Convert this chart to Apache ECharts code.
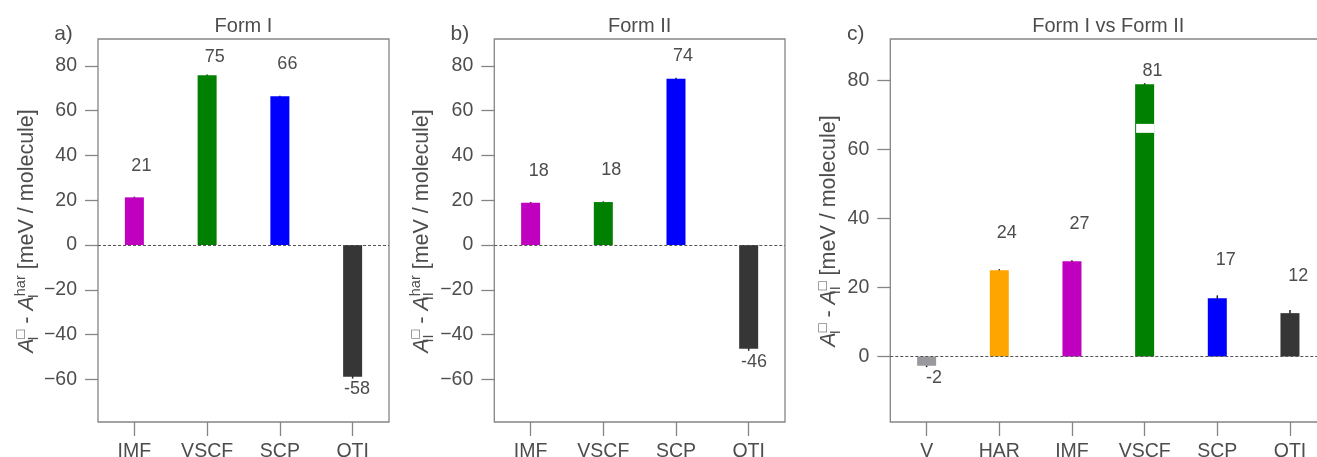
<!DOCTYPE html>
<html><head><meta charset="utf-8">
<script src="https://cdn.jsdelivr.net/npm/echarts@6/dist/echarts.min.js"></script>
<style>html,body{margin:0;padding:0;background:#fff}#c{width:1317px;height:457px}</style>
</head><body><div id="c"></div>
<script>
// ---------------- data ----------------
const catsAB = ['IMF', 'VSCF', 'SCP', 'QTI'];
const formIValues = [21.3, 75.8, 66.4, -58.8];
const formIErrors = [0.3, 0.4, 0.3, 0.8];
const formILabels = ['21', '75', '66', '-58'];

const formIIValues = [18.9, 19.2, 74.2, -46.3];
const formIIErrors = [0.3, 0.3, 0.5, 0.9];
const formIILabels = ['18', '18', '74', '-46'];

const catsC = ['V', 'HAR', 'IMF', 'VSCF', 'SCP', 'QTI'];
const diffValues = [-2.7, 25.0, 27.6, 78.9, 16.9, 12.55];
const diffErrors = [0.4, 0.3, 0.3, 0.3, 0.8, 0.9];
const diffLabels = ['-2', '24', '27', '81', '17', '12'];
const vscfBreak = [64.8, 67.4];   // white break band drawn on the VSCF bar (panel c)

const yTicksAB = [-60, -40, -20, 0, 20, 40, 60, 80];
const yTicksC = [0, 20, 40, 60, 80];
const titles = ['Form I', 'Form II', 'Form I vs Form II'];
const letters = ['a)', 'b)', 'c)'];

// ---------------- style ----------------
const FONT = '"Liberation Sans", Arial, Helvetica, sans-serif';
const TXT = '#4d4d4d';
const FRAME = '#858585';
const methodColor = { V: '#9a9a9e', HAR: '#FFA500', IMF: '#BF00BF', VSCF: '#008000', SCP: '#0000FF', QTI: '#363636' };
// pixel offsets of value labels (dx, dy) relative to bar end
const offA = [[7, -31.6], [7.7, -18.6], [7.5, -32], [4.5, 12.6]];
const offB = [[8, -31.3], [8, -31.7], [7, -23], [5.4, 13]];
const offC = [[7.3, 12], [7.5, -36.7], [7.5, -37.3], [7.8, -13.3], [8.5, -38], [8.2, -37]];

const grids = [
  { left: 98, top: 39, width: 291, height: 383 },
  { left: 494.3, top: 39, width: 290.7, height: 383 },
  { left: 890.3, top: 39, width: 436, height: 383 }
];

function xAxis(idx, cats) {
  return {
    type: 'category', gridIndex: idx, data: cats,
    axisLine: { show: false, onZero: false },
    axisTick: { show: true, alignWithLabel: true, length: 14, lineStyle: { color: FRAME, width: 1.3 } },
    axisLabel: { color: TXT, fontFamily: FONT, fontSize: 19.5, margin: 20 },
    splitLine: { show: false }
  };
}
function yAxis(idx, min, max, ticks) {
  return {
    type: 'value', gridIndex: idx, min: min, max: max,
    axisLine: { show: false },
    axisTick: { show: true, length: 13, customValues: ticks, lineStyle: { color: FRAME, width: 1.3 } },
    axisLabel: { color: TXT, fontFamily: FONT, fontSize: 19.5, margin: 21, customValues: ticks,
      formatter: v => String(v).replace('-', '\u2212') },
    splitLine: { show: false }
  };
}

function panelSeries(idx, cats, vals, errs, labels, offs, brk) {
  const s = [];
  s.push({
    type: 'custom', xAxisIndex: idx, yAxisIndex: idx, z: 1, silent: true,
    data: vals.map((v, i) => [i, v, errs[i]]),
    renderItem: (p, api) => {
      const i = api.value(0), v = api.value(1), e = api.value(2);
      const a = api.coord([i, v - e]), b = api.coord([i, v + e]);
      return { type: 'line', shape: { x1: a[0], y1: a[1], x2: b[0], y2: b[1] }, style: { stroke: '#222', lineWidth: 1.5 } };
    }
  });
  s.push({
    type: 'bar', xAxisIndex: idx, yAxisIndex: idx, barWidth: 19, z: 2, silent: true,
    data: vals.map((v, i) => ({ value: v, itemStyle: { color: methodColor[cats[i]] } })),
    markLine: {
      silent: true, symbol: 'none', label: { show: false }, animation: false,
      lineStyle: { color: '#555', type: [3, 2], width: 1 },
      data: [{ yAxis: 0 }]
    }
  });
  if (brk) {
    const bi = cats.indexOf('VSCF');
    s.push({
      type: 'custom', xAxisIndex: idx, yAxisIndex: idx, z: 4, silent: true,
      data: [[bi, brk[0], brk[1]]],
      renderItem: (p, api) => {
        const lo = api.coord([api.value(0), api.value(1)]);
        const hi = api.coord([api.value(0), api.value(2)]);
        return { type: 'rect', shape: { x: lo[0] - 8.5, y: hi[1], width: 18, height: lo[1] - hi[1] }, style: { fill: '#ffffff' } };
      }
    });
  }
  s.push({
    type: 'custom', xAxisIndex: idx, yAxisIndex: idx, z: 5, silent: true,
    data: vals.map((v, i) => [i, v]),
    renderItem: (p, api) => {
      const i = p.dataIndex;
      const c = api.coord([api.value(0), api.value(1)]);
      return {
        type: 'text', x: c[0] + offs[i][0], y: c[1] + offs[i][1],
        style: { text: labels[i], fill: TXT, font: '18px ' + FONT,
          align: 'center', verticalAlign: 'middle', textAlign: 'center', textVerticalAlign: 'middle' }
      };
    }
  });
  return s;
}

function richStyles() {
  const main = { font: '21.5px ' + FONT, fontSize: 21.5, fontFamily: FONT, lineHeight: 28, fill: TXT, color: TXT };
  const it = Object.assign({}, main, { font: 'italic 21.5px ' + FONT, fontStyle: 'italic' });
  const small = { font: '14.5px ' + FONT, fontSize: 14.5, fontFamily: FONT, lineHeight: 14.5, fill: TXT, color: TXT };
  return {
    n: main, it: it,
    sub: Object.assign({}, small, { verticalAlign: 'bottom', width: 0 }),
    sup: Object.assign({}, small, { verticalAlign: 'top' })
  };
}
function yLabel(x, y, text) {
  return {
    type: 'text', x: x, y: y, rotation: Math.PI / 2, silent: true,
    style: { text: text, rich: richStyles(), fill: TXT, font: '21.5px ' + FONT,
      align: 'center', verticalAlign: 'middle', textAlign: 'center', textVerticalAlign: 'middle' }
  };
}
function plainText(x, y, text, size) {
  return {
    type: 'text', x: x, y: y, silent: true,
    style: { text: text, fill: TXT, font: size + 'px ' + FONT,
      align: 'center', verticalAlign: 'middle', textAlign: 'center', textVerticalAlign: 'middle' }
  };
}

const gridOpts = grids.map(g => Object.assign({
  show: true, borderColor: FRAME, borderWidth: 1.3, backgroundColor: 'transparent',
  containLabel: false, outerBoundsMode: 'none'
}, g));

const graphics = [];
grids.forEach((g, i) => {
  graphics.push(plainText(g.left + g.width / 2, 26.5, titles[i], 20));
  graphics.push(plainText(g.left - 34.5, 34.5, letters[i], 21));
});
graphics.push(yLabel(27, 231, '{it|A}{sub|I}{sup|\u25A1}{n| - }{it|A}{sub|I}{sup|har}{n| [meV / molecule]}'));
graphics.push(yLabel(422.5, 231, '{it|A}{sub|II}{sup|\u25A1}{n| - }{it|A}{sub|II}{sup|har}{n| [meV / molecule]}'));
graphics.push(yLabel(829, 231, '{it|A}{sub|I}{sup|\u25A1}{n| - }{it|A}{sub|II}{sup|\u25A1}{n| [meV / molecule]}'));

const option = {
  animation: false,
  backgroundColor: '#ffffff',
  grid: gridOpts,
  xAxis: [xAxis(0, catsAB), xAxis(1, catsAB), xAxis(2, catsC)],
  yAxis: [yAxis(0, -79, 92, yTicksAB), yAxis(1, -79, 92, yTicksAB), yAxis(2, -19, 92, yTicksC)],
  series: [].concat(
    panelSeries(0, catsAB, formIValues, formIErrors, formILabels, offA, null),
    panelSeries(1, catsAB, formIIValues, formIIErrors, formIILabels, offB, null),
    panelSeries(2, catsC, diffValues, diffErrors, diffLabels, offC, vscfBreak)
  ),
  graphic: graphics
};

const chart = echarts.init(document.getElementById('c'), null, { renderer: 'canvas' });
chart.setOption(option);
</script>
</body></html>
